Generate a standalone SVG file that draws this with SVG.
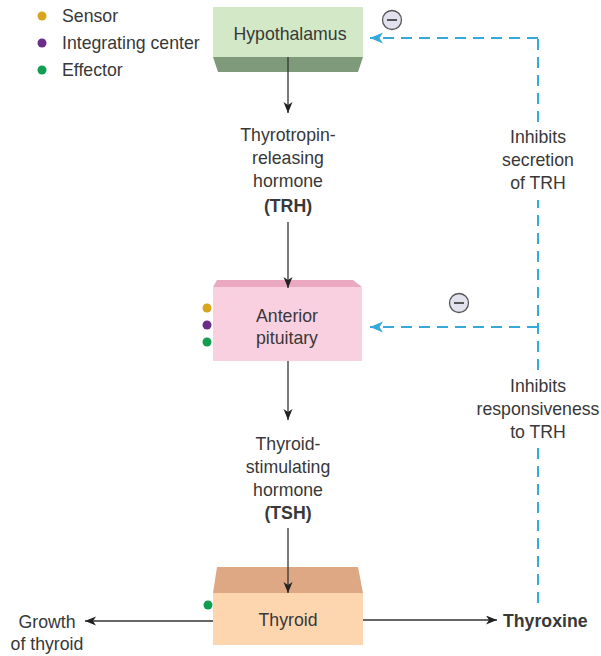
<svg xmlns="http://www.w3.org/2000/svg" width="601" height="656" viewBox="0 0 601 656">
<style>
text{font-family:"Liberation Sans",Arial,sans-serif;font-size:17.7px;fill:#383838;}
.c{text-anchor:middle;}
.b{font-weight:bold;}
.ln{stroke:#333;stroke-width:1.3;fill:none;}
.dash{stroke:#35a8dc;stroke-width:2;stroke-dasharray:11 7;fill:none;}
.minus circle{fill:#e2e2ee;stroke:#555;stroke-width:1.3;}
.minus line{stroke:#333;stroke-width:1.6;}
</style>
<defs>
<marker id="ah" markerWidth="12" markerHeight="10" refX="11" refY="4.5" orient="auto" markerUnits="userSpaceOnUse">
<path d="M0,0 L11,4.5 L0,9 L3,4.5 z" fill="#222"/>
</marker>
<marker id="bh" markerWidth="14" markerHeight="12" refX="13" refY="5.5" orient="auto" markerUnits="userSpaceOnUse">
<path d="M0,0 L13,5.5 L0,11 L3.5,5.5 z" fill="#35a8dc"/>
</marker>
</defs>
<rect width="601" height="656" fill="#fff"/>

<g id="legend">
<circle cx="42" cy="16" r="4.5" fill="#d9a41e"/>
<text x="62" y="22">Sensor</text>
<circle cx="42" cy="43" r="4.5" fill="#6a2d8a"/>
<text x="62" y="49">Integrating center</text>
<circle cx="42" cy="70" r="4.5" fill="#119e50"/>
<text x="62" y="76">Effector</text>
</g>

<g id="hypothalamus">
<rect x="213" y="7" width="150" height="50" fill="#d2e8c6"/>
<polygon points="213,57 363,57 358,72 218,72" fill="#7e9a7a"/>
<text class="c" x="290" y="40">Hypothalamus</text>
</g>

<g id="trh">
<text class="c" x="288" y="141">Thyrotropin-</text>
<text class="c" x="288" y="164">releasing</text>
<text class="c" x="288" y="187">hormone</text>
<text class="c b" x="288" y="212">(TRH)</text>
</g>

<g id="anterior-pituitary">
<polygon points="217,280 353,280 362,287 213,287" fill="#eaa9c0"/>
<rect x="213" y="287" width="149" height="74" fill="#f9d0e0"/>
<text class="c" x="287" y="322">Anterior</text>
<text class="c" x="287" y="344">pituitary</text>
<circle cx="207" cy="308" r="4.5" fill="#d9a41e"/>
<circle cx="207" cy="325" r="4.5" fill="#6a2d8a"/>
<circle cx="207" cy="342" r="4.5" fill="#119e50"/>
</g>

<g id="tsh">
<text class="c" x="288" y="450">Thyroid-</text>
<text class="c" x="288" y="473">stimulating</text>
<text class="c" x="288" y="496">hormone</text>
<text class="c b" x="288" y="519">(TSH)</text>
</g>

<g id="thyroid">
<polygon points="217,567 358,567 363,593 213,593" fill="#dda883"/>
<rect x="213" y="593" width="150" height="52" fill="#fdd6b0"/>
<text class="c" x="288" y="626">Thyroid</text>
<circle cx="208" cy="605" r="4.5" fill="#119e50"/>
</g>

<g id="growth">
<text class="c" x="47" y="628">Growth</text>
<text class="c" x="47" y="650">of thyroid</text>
</g>

<g id="thyroxine">
<text class="b" x="503" y="627">Thyroxine</text>
</g>

<g id="feedback-labels">
<text class="c" x="538" y="143">Inhibits</text>
<text class="c" x="538" y="166">secretion</text>
<text class="c" x="538" y="189">of TRH</text>
<text class="c" x="538" y="392">Inhibits</text>
<text class="c" x="538" y="415">responsiveness</text>
<text class="c" x="538" y="438">to TRH</text>
</g>

<g id="connectors">
<line class="ln" x1="288" y1="57" x2="288" y2="113" marker-end="url(#ah)"/>
<line class="ln" x1="288" y1="222" x2="288" y2="288" marker-end="url(#ah)"/>
<line class="ln" x1="288" y1="361" x2="288" y2="420" marker-end="url(#ah)"/>
<line class="ln" x1="288" y1="528" x2="288" y2="593" marker-end="url(#ah)"/>
<line class="ln" x1="213" y1="621" x2="85" y2="621" marker-end="url(#ah)"/>
<line class="ln" x1="363" y1="620" x2="497" y2="620" marker-end="url(#ah)"/>
<line class="dash" x1="538" y1="603" x2="538" y2="448"/>
<line class="dash" x1="538" y1="370" x2="538" y2="200"/>
<line class="dash" x1="538" y1="122" x2="538" y2="38"/>
<line class="dash" x1="538" y1="38" x2="370" y2="38" marker-end="url(#bh)"/>
<line class="dash" x1="538" y1="327" x2="370" y2="327" marker-end="url(#bh)"/>
</g>

<g id="minus-signs" class="minus">
<circle cx="392" cy="20" r="9.5"/>
<line x1="387" y1="20" x2="397" y2="20"/>
<circle cx="459" cy="303" r="9.5"/>
<line x1="454" y1="303" x2="464" y2="303"/>
</g>
</svg>
